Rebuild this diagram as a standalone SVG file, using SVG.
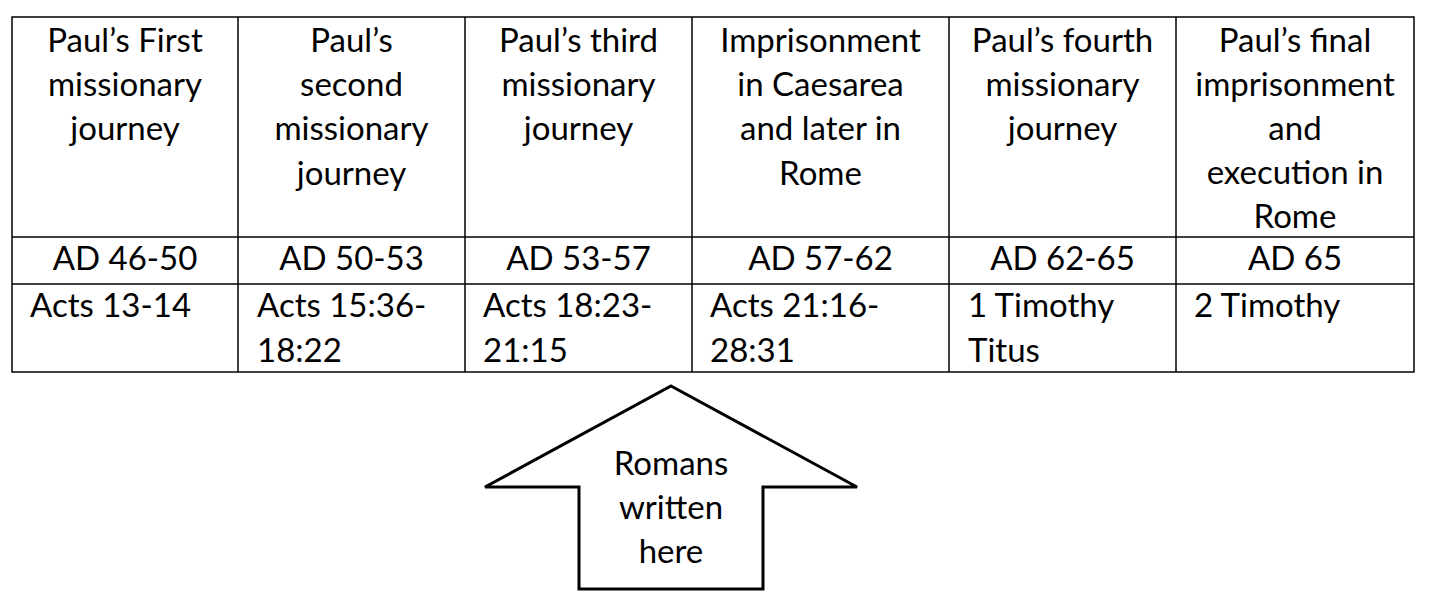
<svg xmlns="http://www.w3.org/2000/svg" width="1448" height="609" viewBox="0 0 1448 609">
<style>
.t{font-family:Lato,"Open Sans","Liberation Sans",sans-serif;font-size:33px;fill:#000}
.c{text-anchor:middle}
.g{stroke:#000;stroke-width:1.5;fill:none}
</style>
<rect width="1448" height="609" fill="#fff"/>
<g id="table">
<rect class="g" x="12" y="17" width="1402" height="355"/>
<line class="g" x1="12" y1="237" x2="1414" y2="237"/>
<line class="g" x1="12" y1="284" x2="1414" y2="284"/>
<line class="g" x1="238" y1="17" x2="238" y2="372"/>
<line class="g" x1="465" y1="17" x2="465" y2="372"/>
<line class="g" x1="692" y1="17" x2="692" y2="372"/>
<line class="g" x1="949" y1="17" x2="949" y2="372"/>
<line class="g" x1="1176" y1="17" x2="1176" y2="372"/>
</g>
<g id="col1">
<text class="t c" x="125"><tspan x="125" y="52">Paul’s First</tspan><tspan x="125" y="96">missionary</tspan><tspan x="125" y="140">journey</tspan></text>
<text class="t c" x="125" y="270">AD 46-50</text>
<text class="t" x="30" y="317">Acts 13-14</text>
</g>
<g id="col2">
<text class="t c"><tspan x="351.5" y="52">Paul’s</tspan><tspan x="351.5" y="96">second</tspan><tspan x="351.5" y="140">missionary</tspan><tspan x="351.5" y="185">journey</tspan></text>
<text class="t c" x="351.5" y="270">AD 50-53</text>
<text class="t"><tspan x="257" y="317">Acts 15:36-</tspan><tspan x="257" y="362">18:22</tspan></text>
</g>
<g id="col3">
<text class="t c"><tspan x="578.5" y="52">Paul’s third</tspan><tspan x="578.5" y="96">missionary</tspan><tspan x="578.5" y="140">journey</tspan></text>
<text class="t c" x="578.5" y="270">AD 53-57</text>
<text class="t"><tspan x="483" y="317">Acts 18:23-</tspan><tspan x="483" y="362">21:15</tspan></text>
</g>
<g id="col4">
<text class="t c"><tspan x="820.5" y="52">Imprisonment</tspan><tspan x="820.5" y="96">in Caesarea</tspan><tspan x="820.5" y="140">and later in</tspan><tspan x="820.5" y="185">Rome</tspan></text>
<text class="t c" x="820.5" y="270">AD 57-62</text>
<text class="t"><tspan x="710" y="317">Acts 21:16-</tspan><tspan x="710" y="362">28:31</tspan></text>
</g>
<g id="col5">
<text class="t c"><tspan x="1062.5" y="52">Paul’s fourth</tspan><tspan x="1062.5" y="96">missionary</tspan><tspan x="1062.5" y="140">journey</tspan></text>
<text class="t c" x="1062.5" y="270">AD 62-65</text>
<text class="t"><tspan x="968" y="317">1 Timothy</tspan><tspan x="968" y="362">Titus</tspan></text>
</g>
<g id="col6">
<text class="t c"><tspan x="1295" y="52">Paul’s final</tspan><tspan x="1295" y="96">imprisonment</tspan><tspan x="1295" y="140">and</tspan><tspan x="1295" y="184">execution in</tspan><tspan x="1295" y="228">Rome</tspan></text>
<text class="t c" x="1295" y="270">AD 65</text>
<text class="t" x="1194" y="317">2 Timothy</text>
</g>
<g id="arrow">
<polygon points="671,386 857,487 763,487 763,589 579,589 579,487 485,487" fill="#fff" stroke="#000" stroke-width="3" stroke-linejoin="miter"/>
<text class="t c"><tspan x="671" y="475">Romans</tspan><tspan x="671" y="519">written</tspan><tspan x="671" y="563">here</tspan></text>
</g>
<g id="connectors"/>
</svg>
